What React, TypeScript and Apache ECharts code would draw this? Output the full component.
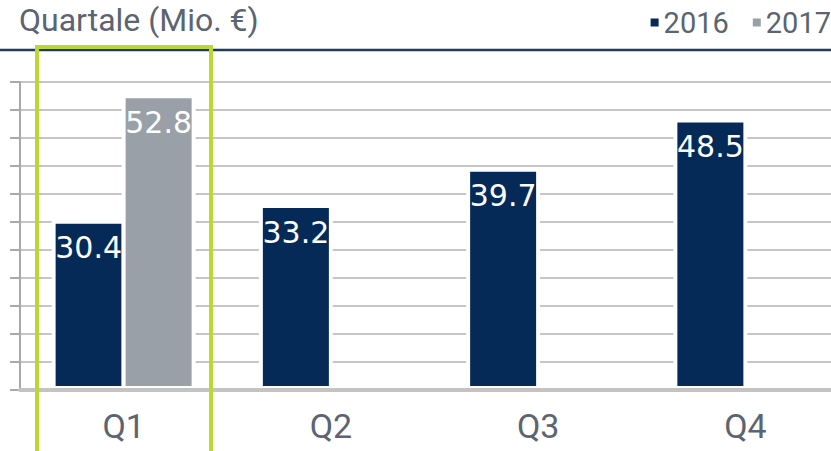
import React, { useEffect, useRef } from "react";
import * as echarts from "echarts";

const categories = ["Q1", "Q2", "Q3", "Q4"];
const values2016 = [30.4, 33.2, 39.7, 48.5];
const values2017: (number | null)[] = [52.8, null, null, null];
const seriesNames = ["2016", "2017"];
const titleText = "Quartale (Mio. €)";

export default function App() {
  const ref = useRef<HTMLDivElement>(null);
  useEffect(() => {
    if (!ref.current) return;
    const chart = echarts.init(ref.current, undefined, { renderer: "svg" });
    const gray = "#5b6470";
    const labelStyle = {
      show: true,
      position: "insideTop",
      distance: 13,
      color: "#ffffff",
      fontSize: 30,
      fontFamily: "DejaVu Sans",
      formatter: (p: any) => p.value.toFixed(1),
    };
    chart.setOption({
      animation: false,
      backgroundColor: "#ffffff",
      grid: { left: 20, top: 82, right: 0, bottom: 61, containLabel: false },
      legend: {
        data: seriesNames,
        right: 13,
        top: 3,
        icon: "rect",
        itemWidth: 8,
        itemHeight: 8,
        itemGap: 24,
        itemStyle: { borderWidth: 0 },
        textStyle: { fontSize: 29, color: gray, fontFamily: "Roboto" },
      },
      xAxis: {
        type: "category",
        data: categories,
        z: 5,
        axisLine: { show: true, lineStyle: { color: "#c3c3c3", width: 4 } },
        axisTick: { show: false },
        axisLabel: { fontSize: 34, color: gray, fontFamily: "Roboto", margin: 19 },
      },
      yAxis: {
        type: "value",
        min: 0,
        max: 55,
        interval: 5,
        axisLabel: { show: false },
        axisLine: { show: true, lineStyle: { color: "#a9a9a9", width: 2 } },
        axisTick: { show: true, length: 10, lineStyle: { color: "#a9a9a9", width: 2 } },
        splitLine: { show: true, lineStyle: { color: "#c6c6c6", width: 2 } },
      },
      series: [
        {
          name: seriesNames[0],
          type: "bar",
          data: values2016,
          barWidth: 74,
          barGap: "-5.4%",
          itemStyle: { color: "#052a57", borderColor: "#ffffff", borderWidth: 4 },
          label: labelStyle,
        },
        {
          name: seriesNames[1],
          type: "bar",
          data: values2017,
          barWidth: 74,
          barGap: "-5.4%",
          itemStyle: { color: "#99a0a8", borderColor: "#ffffff", borderWidth: 4 },
          label: labelStyle,
        },
      ],
      graphic: [
        {
          type: "text",
          left: 19,
          top: 4,
          z: 10,
          style: { text: titleText, fontSize: 32, fontFamily: "Roboto", fill: gray },
        },
        {
          type: "line",
          z: 10,
          shape: { x1: 0, y1: 50, x2: 831, y2: 50 },
          style: { stroke: "#1e3a5f", lineWidth: 2.5 },
        },
        {
          type: "rect",
          z: 10,
          shape: { x: 37, y: 47, width: 174, height: 420 },
          style: { fill: "none", stroke: "#bcd633", lineWidth: 4 },
        },
      ],
    });
    return () => chart.dispose();
  }, []);
  return (
    <div
      ref={ref}
      style={{ position: "fixed", left: 0, top: 0, width: 849, height: 451 }}
    />
  );
}
